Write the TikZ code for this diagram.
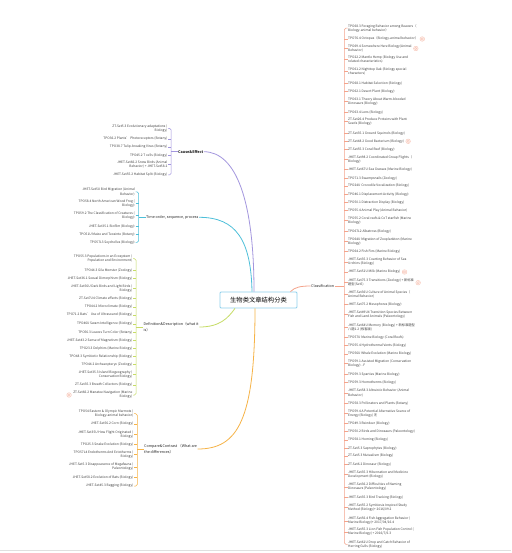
\documentclass[tikz,border=0pt]{standalone}
\usepackage{fontspec}
\setmainfont{Noto Sans CJK SC}
\usetikzlibrary{calc}

\definecolor{cepurple}{HTML}{A396DE}
\definecolor{toteal}{HTML}{4DBFD9}
\definecolor{ddgreen}{HTML}{C6DC66}
\definecolor{ccorange}{HTML}{F6B347}
\definecolor{clssalmon}{HTML}{F4A48C}
\definecolor{ctrblue}{HTML}{8FD0EC}

\tikzset{
  leaf/.style={font=\fontsize{3.25}{4.1}\selectfont, text=black!75, inner sep=0.5pt},
  rleaf/.style={leaf, anchor=west, align=left},
  lleaf/.style={leaf, anchor=east, align=right},
  branch/.style={font=\fontsize{3.7}{5.4}\selectfont, text=black!85, inner sep=0.5pt, align=left},
  spine/.style={line width=0.5pt, rounded corners=1.5pt},
  curve/.style={line width=0.8pt},
  icon/.style={draw=clssalmon!70, fill=clssalmon!12, line width=0.35pt}
}

\begin{document}
\begin{tikzpicture}[x=1pt,y=-1pt]
  \useasboundingbox (0,0) rectangle (511,553);
  \fill[white] (0,0) rectangle (511,553);
  \draw[black!12, line width=0.4pt] (0,550) -- (511,550);

  % 中心主题
  \node[draw=ctrblue, line width=0.8pt, rounded corners=1pt, minimum width=77pt,
        minimum height=16pt, font=\fontsize{6.3}{7}\selectfont] (ctr) at (258.5,300) {生物类文章结构分类};

  % 分支标题
  \node[branch, anchor=west, font=\bfseries\fontsize{3.7}{5.4}\selectfont] (cel) at (177.5,151.7) {Cause\&Effect};
  \node[branch, anchor=west] (tol) at (145.5,217.3) {Time order, sequence, process};
  \node[branch, anchor=west] (ddl) at (143,327) {Definition\&Description（what it\\is）};
  \node[branch, anchor=west] (ccl) at (143.5,449) {Compare\&Contrast （What are\\the differences）};
  \node[branch, anchor=west] (cls) at (310.5,286) {Classification};

  \coordinate (cesp) at (171,0);
  \coordinate (tosp) at (138.7,0);
  \coordinate (ddsp) at (136,0);
  \coordinate (ccsp) at (137.3,0);
  \coordinate (rsp) at (344.3,0);

  % 中心到分支
  \draw[curve, cepurple] ([xshift=-4.5]ctr.north) .. controls (254,200) and (236,152) .. (cel.east);
  \draw[curve, toteal] ([xshift=-6.5]ctr.north) .. controls (251,240) and (236,217.3) .. (tol.east);
  \draw[curve, ddgreen] ([xshift=-23.5]ctr.south) .. controls (228,318) and (220,327) .. (ddl.east);
  \draw[curve, ccorange] ([xshift=-3.5]ctr.south) .. controls (255,420) and (238,449) .. (ccl.east);
  \draw[curve, clssalmon] ([xshift=-7]ctr.north east) .. controls (295,287) and (301,286) .. (cls.west);

  % Cause&Effect
  \foreach \y/\t [count=\i] in {
    128.3/{ZT-Set5.3 Evolutionary adaptations (\\Biology)},
    139/{TPO36.2 Plants' Photoreceptors (Botany)},
    147/{TPO38.7 Tulip-breaking Virus (Botany)},
    155.3/{TPO45.2 T cells (Biology)},
    164.7/{JHET-Set66.2 Snow Birds (Animal\\Behavior) + JHET-Set58.2},
    175/{JHET-Set55.2 Habitat Split (Biology)}}
    \node[lleaf] (ce\i) at (168,\y) {\t};
  \draw[spine, cepurple] (ce1.east) -| ($(cesp)+(0,150)$) |- (ce6.east);
  \foreach \i in {2,...,5} \draw[spine, cepurple] (ce\i.east) -- (ce\i.east -| cesp);
  \draw[spine, cepurple] (cel.west) -- (cel.west -| cesp);

  % Time order
  \foreach \y/\t [count=\i] in {
    192/{JHET-Set5U Bird Migration (Animal\\Behavior)},
    203.7/{TPO58.4 North American Wood Frog (\\Biology)},
    215.7/{TPO59.2 The Classification of Creatures (\\Biology)},
    226.3/{JHET-Set35.1 Biofilm (Biology)},
    234.3/{TPO51U Maize and Teosinte (Botany)},
    242.3/{TPO57L3 Seychelles (Biology)}}
    \node[lleaf] (to\i) at (135.5,\y) {\t};
  \draw[spine, toteal] (to1.east) -| ($(tosp)+(0,215)$) |- (to6.east);
  \foreach \i in {2,...,5} \draw[spine, toteal] (to\i.east) -- (to\i.east -| tosp);
  \draw[spine, toteal] (tol.west) -- (tol.west -| tosp);

  % Definition&Description
  \foreach \y/\t [count=\i] in {
    258.7/{TPO55.3 Populations in an Ecosystem (\\Population and Environment)},
    270.3/{TPO44.3 Gila Monster (Zoology)},
    278.7/{JHET-Set36.1 Sexual Dimorphism (Biology)},
    288.7/{JHET-Set56U Dark Birds and Light Birds (\\Biology)},
    298.7/{ZT-Set7U4 Climate effects (Biology)},
    307/{TPO44.2 Microclimate (Biology)},
    315/{TPO71.2 Bats' Use of Ultrasound (Biology)},
    324/{TPO46U Swam Intelligence (Biology)},
    332.3/{TPO56.3 Leaves Turn Color (Botany)},
    340.3/{JHET-Set43.2 Sense of Magnetism (Biology)},
    348.7/{TPO23.3 Dolphins (Marine Biology)},
    356.3/{TPO48.3 Symbiotic Relationship (Biology)},
    364.3/{TPO44.2 Archaeopteryx (Zoology)},
    374.7/{JHET-Set35.3 Island Biogeography (\\Conservation Biology)},
    385/{ZT-Set35.3 Breath Collectors (Biology)},
    395/{ZT-Set66.2 Manatee Navigation (Marine\\Biology)}}
    \node[lleaf] (dd\i) at (133,\y) {\t};
  \draw[spine, ddgreen] (dd1.east) -| ($(ddsp)+(0,320)$) |- (dd16.east);
  \foreach \i in {2,...,15} \draw[spine, ddgreen] (dd\i.east) -- (dd\i.east -| ddsp);
  \draw[spine, ddgreen] (ddl.west) -- (ddl.west -| ddsp);

  % Compare&Contrast
  \foreach \y/\t [count=\i] in {
    413.7/{TPO54 Eastern \& Olympic Marmots (\\Biology-animal behavior)},
    424/{JHET-Set56.2 Corn (Biology)},
    434.3/{JHET-Set35U How Flight Originated (\\Biology)},
    444.3/{TPO25.3 Snake Evolution (Biology)},
    454.3/{TPO57L4 Endotherms And Ectotherms (\\Biology)},
    467/{JHET-Set5.3 Disappearance of Megafauna (\\Paleontology)},
    477.7/{JHET-Set58.2 Evolution of Bats (Biology)},
    486/{JHET-Set45.3 Begging (Biology)}}
    \node[lleaf] (cc\i) at (134,\y) {\t};
  \draw[spine, ccorange] (cc1.east) -| ($(ccsp)+(0,450)$) |- (cc8.east);
  \foreach \i in {2,...,7} \draw[spine, ccorange] (cc\i.east) -- (cc\i.east -| ccsp);
  \draw[spine, ccorange] (ccl.west) -- (ccl.west -| ccsp);

  % Classification
  \foreach \y/\t [count=\i] in {
    28.2/{TPO68.3 Foraging Behavior among Beavers（\\Biology-animal behavior）},
    39/{TPO76.4 Octopus（Biology-animal behavior）},
    48.5/{TPO69.4 Somewhere Here Biology(Animal\\Behavior)},
    59.5/{TPO22.2 Mantle Hemp (Biology Use and\\related characteristics)},
    71.7/{TPO61.2 Nighttop Oak (Biology special\\characters)},
    83.7/{TPO68.1 Habitat Selection (Biology)},
    91.7/{TPO62.1 Desert Plant (Biology)},
    101.7/{TPO63.1 Theory About Warm-blooded\\Dinosaurs (Biology)},
    112.7/{TPO63.4 Lens (Biology)},
    121.7/{ZT-Set26.4 Produce Proteins with Plant\\Seeds (Biology)},
    133.3/{ZT-Set35.1 Ground Squirrels (Biology)},
    141.3/{ZT-Set48.2 Good Bacterium (Biology)},
    149.3/{ZT-Set55.3 Coral Reef (Biology)},
    159.3/{JHET-Set98.2 Coordinated Group Flights（\\Biology)},
    169.7/{JHET-Set67U Sea Grasses (Marine Biology)},
    178.3/{TPO71.3 Swampsnails (Zoology)},
    186/{TPO24U Crocodile Vocalization (Biology)},
    194.3/{TPO46.1 Displacement Activity (Biology)},
    202.3/{TPO50.1 Distraction Display (Biology)},
    210.3/{TPO55.4 Animal Play (Animal Behavior)},
    220.3/{TPO55.2 Coral reefs \& CoT starfish (Marine\\Biology)},
    231.3/{TPO67L2 Albatross (Biology)},
    241.3/{TPO64U Migration of Zooplankton (Marine\\Biology)},
    251.3/{TPO64.2 Fish Fins (Marine Biology)},
    262/{JHET-Set35.3 Courting Behavior of Sea\\Urchins (Biology)},
    272/{JHET-Set51U Milk (Marine Biology)},
    282.7/{JHET-Set75.3 Transitions (Zoology) + 新标准\\题型(Set5)},
    294.7/{JHET-Set36U Culture of Animal Species（\\Animal Behavior)},
    304.3/{JHET-Set75.2 Mesophores (Biology)},
    314.7/{JHET-Set49U4 Transition Species Between\\Fish and Land Animals (Paleontology)},
    327/{JHET-Set64U Memory (Biology) + 新标准题型\\八题1.2 (极客版)},
    337.3/{TPO57U Marine Biology (Coral Reefs)},
    345.3/{TPO55.4 Hydrothermal Vents (Biology)},
    354/{TPO56U Whale Evolution (Marine Biology)},
    363.7/{TPO59.1 Assisted Migration (Conservation\\Biology) - F},
    374.3/{TPO59.3 Sparties (Marine Biology)},
    382.3/{TPO59.3 Homotherms (Biology)},
    393/{JHET-Set58.3 Altruistic Behavior (Animal\\Behavior)},
    403.3/{TPO58.3 Pollinators and Plants (Botany)},
    413.7/{TPO59.4 A Potential Alternative Source of\\Energy (Biology) 无},
    423.3/{TPO49.3 Reindeer (Biology)},
    431.7/{TPO50.2 Birds and Dinosaurs (Paleontology)},
    440/{TPO58.1 Homing (Biology)},
    448.3/{ZT-Set5.3 Saprophytes (Biology)},
    456/{ZT-Set5.3 Mutualism (Biology)},
    464.3/{ZT-Set6.2 Dinosaur (Biology)},
    474.7/{JHET-Set35.3 Hibernation and Medicine\\Development (Biology)},
    487/{JHET-Set36.2 Difficulties of Naming\\Dinosaurs (Paleontology)},
    497.3/{JHET-Set35.3 Bird Tracking (Biology)},
    507.7/{JHET-Set55.2 Symbiosis Inspired Study\\Method (Biology)+ 2016/09.2},
    521/{JHET-Set56.4 Fish Aggregation Behavior (\\Marine Biology)+ 2017/04/16.4},
    532/{JHET-Set55.3 Lion Fish Population Control (\\Marine Biology) + 2016/7/6.3},
    544.3/{JHET-Set61U Drop and Catch Behavior of\\Herring Gulls (Biology)}}
    \node[rleaf] (r\i) at (347.5,\y) {\t};
  \draw[spine, clssalmon] (r1.west) -| ($(rsp)+(0,286)$) |- (r53.west);
  \foreach \i in {2,...,52} \draw[spine, clssalmon] (r\i.west) -- (r\i.west -| rsp);
  \draw[spine, clssalmon] (cls.east) -- (cls.east -| rsp);

  % 图标
  \foreach \n in {r2,r3,r12,r26,r27} {
    \draw[icon] ([xshift=3.5]\n.east) circle (2.3);
    \draw[icon] ([xshift=3.5]\n.east) circle (1.1);
  }
  \draw[icon] ([xshift=-3.5]dd16.west) circle (2.3);
  \draw[icon] ([xshift=-3.5]dd16.west) circle (1.1);

\end{tikzpicture}
\end{document}
